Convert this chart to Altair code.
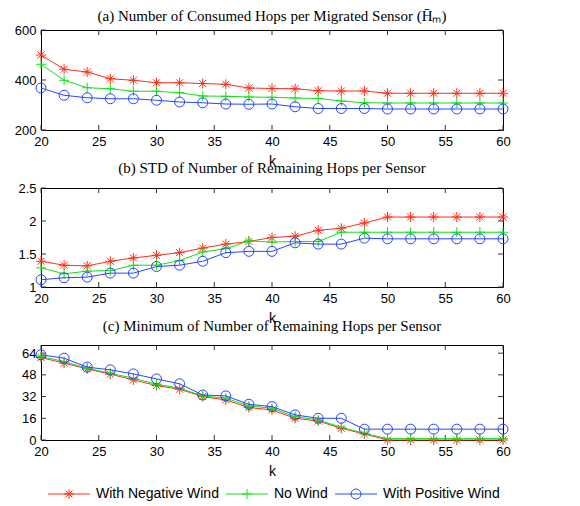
import altair as alt
import pandas as pd

k = list(range(20, 61, 2))
series = ["With Negative Wind", "No Wind", "With Positive Wind"]
colors = ["#ff2e1a", "#14e014", "#2646ff"]

neg_a = [500, 443, 432, 405, 399, 389, 389, 386, 383, 368, 366, 365, 357, 356, 356, 347, 347, 347, 347, 347, 347]
now_a = [463, 399, 369, 365, 355, 355, 349, 336, 335, 332, 331, 328, 326, 316, 309, 308, 308, 308, 308, 308, 308]
pos_a = [368, 339, 329, 325, 325, 319, 312, 309, 304, 303, 304, 293, 286, 286, 286, 284, 284, 284, 284, 284, 284]

neg_b = [1.39, 1.33, 1.32, 1.39, 1.44, 1.48, 1.52, 1.59, 1.65, 1.69, 1.75, 1.77, 1.86, 1.89, 1.97, 2.06, 2.06, 2.06, 2.06, 2.06, 2.06]
now_b = [1.29, 1.20, 1.24, 1.25, 1.33, 1.33, 1.40, 1.53, 1.58, 1.70, 1.68, 1.69, 1.69, 1.83, 1.83, 1.83, 1.83, 1.83, 1.83, 1.83, 1.83]
pos_b = [1.11, 1.14, 1.15, 1.21, 1.21, 1.31, 1.33, 1.39, 1.52, 1.54, 1.54, 1.67, 1.65, 1.65, 1.74, 1.73, 1.73, 1.73, 1.73, 1.73, 1.73]

neg_c = [60.8, 56.6, 52.4, 48.5, 44.3, 40.1, 37.4, 32.0, 29.5, 23.9, 22.2, 16.0, 14.0, 8.6, 4.4, 0, 0, 0, 0, 0, 0]
now_c = [61.5, 57.8, 52.9, 49.2, 45.5, 41.1, 38.2, 32.5, 30.8, 25.1, 23.4, 17.2, 14.8, 9.4, 4.9, 1, 1, 1, 1, 1, 1]
pos_c = [62.8, 60.3, 53.7, 51.7, 48.7, 45.0, 41.4, 33.2, 32.5, 26.3, 24.6, 18.5, 16.0, 16.0, 8, 8, 8, 8, 8, 8, 8]

titles = [
    "(a) Number of Consumed Hops per Migrated Sensor (H\u0304\u2098)",
    "(b) STD of Number of Remaining Hops per Sensor",
    "(c) Minimum of Number of Remaining Hops per Sensor",
]
title_offsets = [0, 6, 11]
x_ticks = [20, 25, 30, 35, 40, 45, 50, 55, 60]
y_ticks = [[200, 400, 600], [1, 1.5, 2, 2.5], [0, 16, 32, 48, 64]]
y_domains = [[200, 600], [1, 2.5], [0, 70]]
heights = [100, 99, 95]
W = 462

STAR = "M0,-1V1M-1,0H1M-0.7,-0.7L0.7,0.7M-0.7,0.7L0.7,-0.7"
PLUS = "M0,-1V1M-1,0H1"
CIRC = "M-1,0A1,1 0 1,0 1,0A1,1 0 1,0 -1,0"
markers = [STAR, PLUS, CIRC]
LINE = "M-4.2,0H4.2"
legend_paths = [LINE + STAR, LINE + PLUS, LINE + CIRC]

panel_data = [[neg_a, now_a, pos_a], [neg_b, now_b, pos_b], [neg_c, now_c, pos_c]]


def make_panel(i):
    rows = []
    for s, vals in zip(series, panel_data[i]):
        for kk, v in zip(k, vals):
            rows.append({"k": kk, "v": v, "series": s})
    df = pd.DataFrame(rows)
    h = heights[i]
    X = alt.X("k:Q", scale=alt.Scale(domain=[20, 60], nice=False, zero=False),
              axis=alt.Axis(values=x_ticks, title="k", format="d", labelFlush=False))
    Y = alt.Y("v:Q", scale=alt.Scale(domain=y_domains[i], nice=False, zero=False),
              axis=alt.Axis(values=y_ticks[i], title=None, format="~f", labelFlush=False))
    layers = []
    xt = pd.DataFrame({"k": x_ticks})
    yt = pd.DataFrame({"v": y_ticks[i]})
    tick_style = dict(color="#333333", strokeWidth=1)
    layers.append(alt.Chart(xt).mark_rule(**tick_style).encode(x=X, y=alt.value(h), y2=alt.value(h - 5)))
    layers.append(alt.Chart(xt).mark_rule(**tick_style).encode(x=X, y=alt.value(0), y2=alt.value(5)))
    layers.append(alt.Chart(yt).mark_rule(**tick_style).encode(y=Y, x=alt.value(0), x2=alt.value(5)))
    layers.append(alt.Chart(yt).mark_rule(**tick_style).encode(y=Y, x=alt.value(W), x2=alt.value(W - 5)))
    for s, c, m in zip(series, colors, markers):
        base = alt.Chart(df).transform_filter(alt.datum.series == s)
        layers.append(base.mark_line(color=c, strokeWidth=1).encode(x=X, y=Y))
        layers.append(base.mark_point(shape=m, color=c, filled=False, size=100, strokeWidth=1, opacity=1).encode(x=X, y=Y))
    if i == 2:
        lg = dict(title=None, orient="none", direction="horizontal", legendX=21, legendY=457,
                  gridAlign="none", columns=3)
        leg = alt.Chart(df).transform_filter("false").mark_point(filled=False, size=100, strokeWidth=1, opacity=1).encode(
            x=X, y=Y,
            color=alt.Color("series:N", scale=alt.Scale(domain=series, range=colors), legend=alt.Legend(**lg)),
            shape=alt.Shape("series:N", scale=alt.Scale(domain=series, range=legend_paths), legend=alt.Legend(**lg)),
        )
        layers.append(leg)
    return alt.layer(*layers).properties(
        width=W, height=h,
        title=alt.TitleParams(titles[i], font="Liberation Serif", fontSize=15, fontWeight="normal",
                              color="black", offset=title_offsets[i], anchor="middle"),
    )


chart = alt.vconcat(*[make_panel(i) for i in range(3)], spacing=58, bounds="flush").properties(
    padding={"left": 5, "top": 0, "right": 5, "bottom": 0}
).configure_view(stroke="black", strokeWidth=1).configure_axis(
    labelFont="Liberation Sans", labelFontSize=13, labelColor="black", labelPadding=5,
    titleFont="Liberation Sans", titleFontSize=14, titleFontWeight="normal", titleColor="black",
    titlePadding=6, ticks=False, domain=False, grid=False,
).configure_legend(
    labelFont="Liberation Sans", labelFontSize=14, labelColor="black", symbolSize=100,
    symbolStrokeWidth=1, labelOffset=20, columnPadding=5, padding=0,
)

chart.save("out.html", embed_options={"renderer": "svg", "actions": False})
